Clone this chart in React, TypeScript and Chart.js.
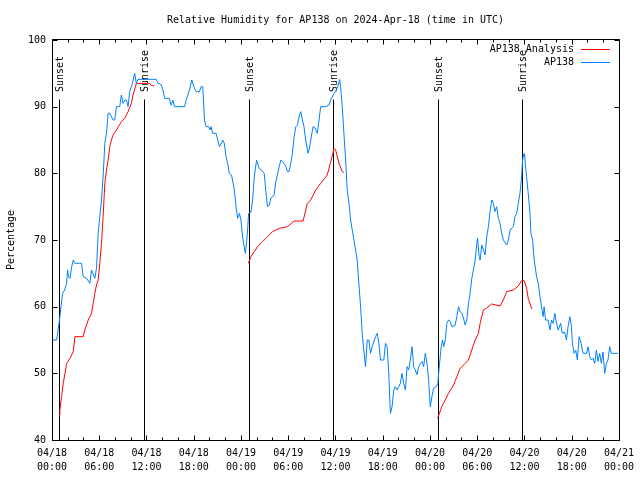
import React, { useEffect, useRef } from "react";
import { Chart, registerables } from "chart.js";

Chart.register(...registerables);

const TITLE = "Relative Humidity for AP138 on 2024-Apr-18 (time in UTC)";
const Y_TITLE = "Percentage";
const SERIES_NAMES = ["AP138 Analysis", "AP138"];
const X_MIN = 0;
const X_MAX = 72;
const Y_MIN = 40;
const Y_MAX = 100;
const DAYS = ["04/18", "04/19", "04/20", "04/21"];

// Sunset / sunrise markers (hours since 04/18 00:00 UTC)
const sunHours = [0.93, 11.68, 24.97, 35.73, 49.01, 59.64];
const sunLabels = ["Sunset", "Sunrise", "Sunset", "Sunrise", "Sunset", "Sunrise"];

// AP138 observations (hours since 04/18 00:00 UTC, %)
const blueHours = [
  0.0, 0.59, 0.8, 1.01, 1.14, 1.35, 1.6, 1.86, 1.98, 2.1, 2.28, 2.5, 2.7, 2.9, 3.12, 3.5, 3.75, 3.96, 4.4, 4.81,
  5.02, 5.2, 5.44, 5.65, 5.86, 6.07, 6.29, 6.49, 6.71, 6.92, 7.13, 7.34, 7.55, 7.76, 7.97, 8.18, 8.6, 8.81, 9.03, 9.24,
  9.45, 9.66, 9.87, 10.21, 10.5, 10.71, 10.92, 13.24, 13.45, 13.88, 14.09, 14.3, 14.9, 15.14, 15.35, 15.56, 16.83, 17.04, 17.46, 17.76,
  18.0, 18.31, 18.73, 18.94, 19.15, 19.36, 19.57, 19.9, 20.1, 20.2, 20.41, 20.84, 21.05, 21.26, 21.5, 21.68, 21.89, 22.1, 22.31, 22.52,
  22.8, 23.16, 23.37, 23.58, 23.8, 24.0, 24.2, 24.55, 24.7, 24.84, 24.97, 25.27, 25.48, 25.69, 25.98, 26.3, 26.6, 26.95, 27.16, 27.37,
  27.58, 27.79, 28.2, 28.43, 28.85, 29.06, 29.48, 29.7, 29.9, 30.1, 30.32, 30.53, 30.75, 30.96, 31.17, 31.38, 31.59, 31.8, 32.0, 32.22,
  32.52, 32.7, 32.86, 33.15, 33.4, 33.7, 33.91, 34.12, 34.75, 35.18, 35.39, 35.81, 36.1, 36.36, 36.53, 36.65, 36.86, 37.07, 37.29, 37.49,
  37.71, 37.92, 38.13, 38.34, 38.76, 38.97, 39.19, 39.39, 39.6, 39.82, 40.03, 40.24, 40.45, 40.66, 41.09, 41.3, 41.51, 41.72, 42.14, 42.35,
  42.56, 42.77, 42.9, 42.98, 43.19, 43.4, 43.6, 43.82, 44.03, 44.24, 44.45, 44.66, 44.88, 45.09, 45.3, 45.5, 45.72, 45.93, 46.14, 46.35,
  46.56, 46.8, 46.98, 47.2, 47.41, 47.62, 47.83, 48.04, 48.25, 48.46, 48.8, 49.01, 49.1, 49.22, 49.43, 49.6, 49.75, 49.94, 50.15, 50.36,
  50.57, 50.78, 51.2, 51.41, 51.63, 51.84, 52.05, 52.26, 52.47, 52.68, 52.89, 53.1, 53.31, 53.52, 53.74, 53.95, 54.05, 54.24, 54.37, 54.58,
  54.79, 55.0, 55.21, 55.42, 55.63, 55.84, 56.05, 56.26, 56.47, 56.69, 56.9, 57.11, 57.32, 57.74, 57.95, 58.17, 58.59, 58.8, 59.01, 59.22,
  59.43, 59.64, 59.76, 59.89, 60.0, 60.1, 60.27, 60.48, 60.7, 60.82, 61.03, 61.24, 61.54, 61.75, 61.97, 62.17, 62.38, 62.5, 62.68, 63.0,
  63.23, 63.44, 63.65, 63.86, 64.07, 64.28, 64.6, 64.79, 65.1, 65.33, 65.54, 65.76, 65.97, 66.09, 66.3, 66.51, 66.72, 66.94, 67.2, 67.44,
  67.9, 68.08, 68.29, 68.5, 68.71, 68.92, 69.13, 69.34, 69.55, 69.76, 69.97, 70.19, 70.4, 70.61, 70.82, 71.03, 71.88,
];
const blueValues = [
  55, 55, 56.75, 58.5, 60, 62, 62.5, 63.5, 65.5, 64.5, 64.25, 66, 67, 66.5, 66.5, 66.5, 66.5, 64.5, 64.25, 63.5,
  65.5, 65, 64.25, 65.75, 71, 73.5, 76, 79.5, 84.5, 86, 89, 89, 88.5, 88, 88, 90, 90, 91.75, 90.5, 91,
  91, 90, 92.25, 93.5, 95, 93.5, 94.1, 94.1, 93.5, 93.3, 92.5, 91.25, 91.25, 90.2, 91, 90, 90, 91, 92.5, 94,
  93, 92.25, 92.25, 93, 93, 88, 87, 87, 86.5, 87, 86, 86, 85, 84, 84.5, 85, 84.5, 82.5, 81.5, 80,
  79.75, 77.5, 75, 73.25, 74, 73, 70.5, 68, 69.5, 71.5, 74, 74.2, 76, 79.5, 82, 80.75, 80.5, 80, 77.25, 75,
  75.2, 76.25, 76.75, 78.75, 81, 82, 81.5, 81, 80.25, 80.25, 81.5, 83, 85.5, 87, 87.2, 88.5, 89.25, 88, 87, 85,
  83, 83.8, 85, 87, 86.8, 86, 88, 90, 90, 90.25, 91, 92, 92.5, 93.25, 94.1, 93, 90, 86, 82, 77.5,
  75.5, 73, 71.5, 70, 67, 63.5, 60, 56, 53.5, 51, 55, 55, 53, 54, 55.5, 56, 54.5, 52, 52, 54.5,
  54, 50, 46, 44, 45, 47.5, 48, 47.5, 48, 48.5, 50, 48.5, 47.5, 51, 50.5, 52, 54, 51, 50.5, 49.8,
  51, 51.5, 51.8, 51, 53, 51.5, 49, 45, 46.5, 47.75, 48, 48.5, 50, 51.5, 54, 55, 54, 55, 57.5, 58,
  57.8, 57, 57.2, 58.5, 60, 59.2, 59, 58.3, 57.25, 58, 60.5, 62, 64.25, 65.5, 67, 69.5, 70.25, 67.5, 67, 69.25,
  68.5, 67.75, 70.5, 72, 74.25, 76, 75.5, 74.25, 75, 73.25, 72.5, 71, 70, 69.25, 70, 71.5, 72, 73.5, 74, 75.5,
  77, 79.5, 82, 82.75, 83, 81.5, 79.5, 77, 74, 71, 70, 67, 64.5, 63.5, 61.5, 60, 58.5, 60, 58, 58,
  56.5, 58, 57.5, 59, 57.5, 56.5, 57.5, 56, 56.2, 55, 57, 58.5, 57, 54.5, 53, 53.5, 52, 55.5, 54.5, 53,
  53, 54, 52.5, 52, 52.25, 51.5, 53.5, 51.8, 53, 51.5, 53.2, 50, 51.5, 52, 54, 53, 53,
];

// AP138 Analysis, one run per night (hours since 04/18 00:00 UTC, %)
const red1Hours = [0.89, 1.0, 1.22, 1.43, 1.65, 1.86, 2.28, 2.7, 2.91, 3.96, 4.17, 4.6, 5.02, 5.23, 5.44, 5.65, 5.86, 6.07, 6.29, 6.49, 6.71, 6.92, 7.13, 7.34, 7.55, 7.76, 8.18, 8.81, 9.24, 9.66, 10.08, 10.29, 10.71, 12.4, 12.6, 13.03];
const red1Values = [43.75, 44.5, 46.5, 48.5, 50, 51.5, 52.25, 53.25, 55.5, 55.5, 56.5, 58, 59, 60.5, 62, 63.25, 64, 66.5, 69.5, 73.5, 78.5, 80.5, 82, 84, 85, 85.75, 86.5, 87.75, 88.25, 89.25, 90.5, 91.75, 93.5, 93.5, 93.2, 93.1];
const red2Hours = [24.93, 25.27, 25.69, 26.1, 26.74, 27.37, 28.0, 28.85, 29.9, 30.75, 31.89, 32.43, 32.85, 33.49, 34.12, 34.96, 35.39, 35.68, 35.81, 36.02, 36.44, 36.86, 37.07];
const red2Values = [66.5, 67.5, 68.25, 69, 69.75, 70.5, 71.25, 71.75, 72, 72.85, 72.85, 75.5, 76, 77.5, 78.5, 79.75, 81.75, 83, 83.75, 83.5, 81.5, 80.25, 80.1];
const red3Hours = [48.97, 49.51, 50.36, 50.99, 51.41, 51.84, 52.47, 52.89, 53.31, 53.74, 54.16, 54.37, 54.79, 55.2, 55.84, 56.9, 57.32, 57.74, 58.59, 59.22, 59.64, 59.98, 60.27, 60.48, 60.9, 61.0];
const red3Values = [43.25, 45, 47, 48.25, 49.5, 50.75, 51.5, 52, 53.5, 55, 56, 57.5, 59.5, 59.8, 60.4, 60.1, 61, 62.25, 62.5, 63.1, 63.9, 63.9, 62.75, 61.25, 59.75, 59.75];

const FONT = '"DejaVu Sans Mono", "Liberation Mono", monospace';
const RED = "#ff0000";
const BLUE = "#0080ff";

function pairs(xs: number[], ys: number[]) {
  return xs.map((x, i) => ({ x, y: ys[i] as number | null }));
}

function xLabel(v: number): string[] {
  const day = Math.floor(v / 24);
  const hr = v - day * 24;
  return [DAYS[day], (hr < 10 ? "0" : "") + hr + ":00"];
}

const decorPlugin = {
  id: "gnuplotDecor",
  beforeDatasetsDraw(chart: any) {
    const { ctx, chartArea, scales } = chart;
    const xs = scales.x;
    const ys = scales.y;
    ctx.save();
    ctx.strokeStyle = "#000";
    ctx.lineWidth = 1;
    const lineTop = Math.round(ys.getPixelForValue(91.2)) + 0.5;
    const labelY = ys.getPixelForValue(92.2);
    ctx.font = "10px " + FONT;
    ctx.fillStyle = "#000";
    sunHours.forEach((h, i) => {
      const px = Math.round(xs.getPixelForValue(h)) + 0.5;
      ctx.beginPath();
      ctx.moveTo(px, lineTop);
      ctx.lineTo(px, chartArea.bottom);
      ctx.stroke();
      ctx.save();
      ctx.translate(px + 1, labelY);
      ctx.rotate(-Math.PI / 2);
      ctx.textAlign = "left";
      ctx.textBaseline = "middle";
      ctx.fillText(sunLabels[i], 0, 0);
      ctx.restore();
    });
    ctx.restore();
  },
  afterDraw(chart: any) {
    const { ctx, chartArea, scales } = chart;
    const xs = scales.x;
    const ys = scales.y;
    const L = Math.round(chartArea.left) + 0.5;
    const R = Math.round(chartArea.right) + 0.5;
    const T = Math.round(chartArea.top) - 0.5;
    const B = Math.round(chartArea.bottom) + 0.5;
    ctx.save();
    ctx.strokeStyle = "#000";
    ctx.lineWidth = 1;
    ctx.beginPath();
    ctx.moveTo(L, T);
    ctx.lineTo(R, T);
    ctx.lineTo(R, B);
    ctx.lineTo(L, B);
    ctx.closePath();
    for (let h = X_MIN; h <= X_MAX; h += 2) {
      const len = h % 6 === 0 ? 5 : 3;
      const px = Math.round(xs.getPixelForValue(h)) + 0.5;
      ctx.moveTo(px, B);
      ctx.lineTo(px, B - len);
      ctx.moveTo(px, T);
      ctx.lineTo(px, T + len);
    }
    for (let v = Y_MIN; v <= Y_MAX; v += 10) {
      const py = Math.round(ys.getPixelForValue(v)) + 0.5;
      ctx.moveTo(L, py);
      ctx.lineTo(L + 5, py);
      ctx.moveTo(R, py);
      ctx.lineTo(R - 5, py);
    }
    ctx.stroke();

    ctx.font = "10px " + FONT;
    ctx.fillStyle = "#000";
    ctx.textAlign = "center";
    ctx.textBaseline = "middle";
    ctx.fillText(TITLE, (chartArea.left + chartArea.right) / 2, 20);

    const colors = [RED, BLUE];
    const rowsY = [49.5, 62.5];
    ctx.textAlign = "right";
    SERIES_NAMES.forEach((name, i) => {
      ctx.fillStyle = "#000";
      ctx.fillText(name, 574, rowsY[i]);
      ctx.strokeStyle = colors[i];
      ctx.beginPath();
      ctx.moveTo(581, rowsY[i]);
      ctx.lineTo(610, rowsY[i]);
      ctx.stroke();
    });
    ctx.restore();
  },
};

export default function App() {
  const ref = useRef<HTMLCanvasElement | null>(null);
  useEffect(() => {
    if (!ref.current) return;
    const redData = [
      ...pairs(red1Hours, red1Values),
      { x: 18, y: null },
      ...pairs(red2Hours, red2Values),
      { x: 42, y: null },
      ...pairs(red3Hours, red3Values),
    ];
    const chart = new Chart(ref.current, {
      type: "line",
      data: {
        datasets: [
          {
            label: SERIES_NAMES[1],
            data: pairs(blueHours, blueValues),
            borderColor: BLUE,
            borderWidth: 1,
            pointRadius: 0,
            tension: 0,
            fill: false,
          },
          {
            label: SERIES_NAMES[0],
            data: redData,
            borderColor: RED,
            borderWidth: 1,
            pointRadius: 0,
            tension: 0,
            fill: false,
            spanGaps: false,
          },
        ],
      },
      options: {
        animation: false,
        responsive: false,
        devicePixelRatio: 1,
        events: [],
        layout: { autoPadding: false, padding: { top: 40, right: 19, left: 0, bottom: 0 } },
        plugins: {
          legend: { display: false },
          title: { display: false },
          tooltip: { enabled: false },
        },
        scales: {
          x: {
            type: "linear",
            min: X_MIN,
            max: X_MAX,
            grid: { display: false, drawTicks: false },
            border: { display: false },
            afterFit: (s: any) => {
              s.height = 40;
            },
            ticks: {
              stepSize: 6,
              autoSkip: false,
              maxRotation: 0,
              minRotation: 0,
              padding: 6,
              color: "#000",
              font: { family: FONT, size: 10, lineHeight: 1.4 },
              callback: (v: any) => xLabel(Number(v)),
            },
          },
          y: {
            type: "linear",
            min: Y_MIN,
            max: Y_MAX,
            grid: { display: false, drawTicks: false },
            border: { display: false },
            afterFit: (s: any) => {
              s.width = 52;
            },
            ticks: {
              stepSize: 10,
              padding: 6,
              color: "#000",
              font: { family: FONT, size: 10 },
            },
            title: {
              display: true,
              text: Y_TITLE,
              color: "#000",
              font: { family: FONT, size: 10 },
              padding: { top: 5, bottom: 0 },
            },
          },
        },
      },
      plugins: [decorPlugin],
    });
    return () => chart.destroy();
  }, []);
  return (
    <div style={{ position: "fixed", left: 0, top: 0, width: 640, height: 480, background: "#fff" }}>
      <canvas ref={ref} width={640} height={480} style={{ display: "block" }} />
    </div>
  );
}
